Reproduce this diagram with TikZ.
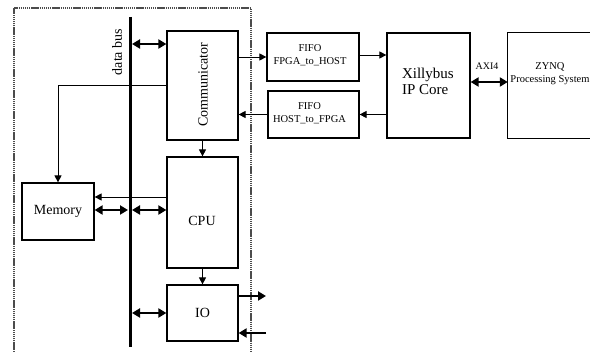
\documentclass[tikz,border=0pt]{standalone}
\usepackage{fontspec}
\setmainfont{Liberation Serif}
\usetikzlibrary{arrows.meta}
\begin{document}
\begin{tikzpicture}[x=1pt,y=-1pt,
  box/.style={draw,line width=1.2pt,inner sep=0pt,anchor=center},
  big/.style={font=\fontsize{14}{16}\selectfont},
  small/.style={font=\fontsize{10.5}{13}\selectfont,align=center},
  thin/.style={line width=0.9pt,-{Triangle[length=7pt,width=7pt]}},
  thick/.style={line width=2.4pt,-{Triangle[length=8pt,width=9pt]}},
  dbl/.style={line width=2.4pt,{Triangle[length=8pt,width=9pt]}-{Triangle[length=8pt,width=9pt]}},
  bus/.style={line width=3pt},
  frame/.style={line width=1.3pt,black!70,dash pattern=on 1.4pt off 0.7pt}]
\useasboundingbox (0,0) rectangle (590,352);
% frame
\draw[frame] (14,352) -- (14,8) -- (251,8) -- (251,352);
% bus
\coordinate (bt) at (130,17);
\coordinate (bb) at (130,347);
\draw[bus] (bt) -- (bb);
\node[big,rotate=90] (buslbl) at (117,52) {data bus};
% boxes
\node[box,minimum width=71pt,minimum height=109pt] (comm) at (202.5,85.5) {};
\node[big,rotate=90] (commtxt) at (203,85) {Communicator};
\node[box,minimum width=71pt,minimum height=111pt] (cpu) at (202.5,212.5) {};
\node[big] (cputxt) at (202,221) {CPU};
\node[box,big,minimum width=71pt,minimum height=56pt] (io) at (202.5,313) {IO};
\node[box,big,minimum width=72pt,minimum height=57pt] (mem) at (58,211.5) {Memory};
\node[box,minimum width=92pt,minimum height=48pt] (fifo1) at (313,57) {};
\node[small] (f1txt) at (310,55) {FIFO\\FPGA\_to\_HOST};
\node[box,minimum width=91pt,minimum height=47pt] (fifo2) at (313.5,114.5) {};
\node[small] (f2txt) at (309.5,113.5) {FIFO\\HOST\_to\_FPGA};
\node[box,minimum width=83pt,minimum height=105pt] (xil) at (428.5,85.5) {};
\node[font=\fontsize{15}{16}\selectfont,align=left,anchor=west] (xtxt) at (398.5,81) {Xillybus\\IP Core};
\node[inner sep=0pt,minimum width=82pt,minimum height=105pt] (zynq) at (549,85.5) {};
\draw[line width=1.2pt] (zynq.north east) -- (zynq.north west) -- (zynq.south west) -- (zynq.south east);
\node[small] (ztxt) at (550,73.5) {ZYNQ\\Processing System};
% connectors
\draw[dbl,shorten <=2pt] (bt |- 0,44) -- (comm.west |- 0,44);
\draw[thin] (comm.west) -| (mem.north);
\draw[thin] (comm.east |- fifo1.west) -- (fifo1.west);
\draw[thin] (fifo2.west) -- (comm.east |- fifo2.west);
\draw[thin] (comm.south) -- (cpu.north);
\draw[thin] (cpu.west |- 0,197) -- (mem.east |- 0,197);
\draw[dbl,shorten >=2pt] (mem.east |- 0,210) -- (bt |- 0,210);
\draw[dbl,shorten <=2pt] (bt |- 0,210) -- (cpu.west |- 0,210);
\draw[thin] (cpu.south) -- (io.north);
\draw[dbl,shorten <=2pt] (bt |- 0,313) -- (io.west |- 0,313);
\coordinate (ioout) at (266,296);
\coordinate (ioin) at (266,333);
\draw[thick] (io.east |- ioout) -- (ioout);
\draw[thick] (ioin) -- (io.east |- ioin);
\draw[thin] (fifo1.east |- 0,55) -- (xil.west |- 0,55);
\draw[thin] (xil.west |- fifo2.east) -- (fifo2.east);
\draw[dbl] (xil.east |- 0,82) -- (zynq.west |- 0,82);
\node[font=\fontsize{10}{12}\selectfont] (axi) at (487,66) {AXI4};
\end{tikzpicture}
\end{document}
